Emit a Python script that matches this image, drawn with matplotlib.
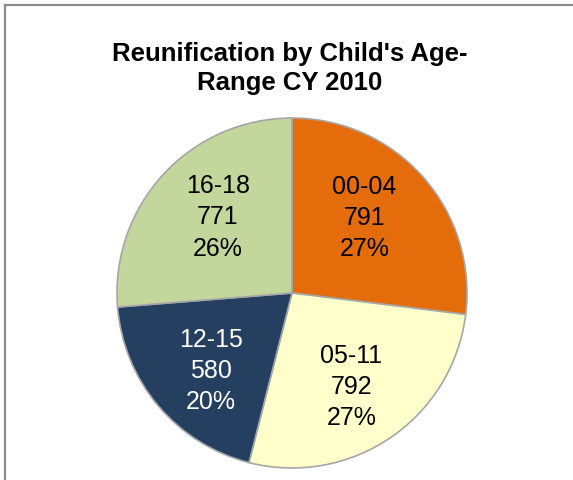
import numpy as np
import matplotlib.pyplot as plt
from matplotlib.lines import Line2D

plt.rcParams['font.family'] = ['Liberation Sans', 'DejaVu Sans']

# Data
age_ranges = ['00-04', '05-11', '12-15', '16-18']
counts = [791, 792, 580, 771]
colors = ['#E46C0A', '#FFFFCC', '#243F60', '#C3D69B']
text_colors = ['black', 'black', 'white', 'black']

W, H = 573, 481
fig = plt.figure(figsize=(W / 100, H / 100), dpi=100)

# pie centre / radius in pixels (from top-left)
cx, cy, r = 292, 294, 175
ax = fig.add_axes([(cx - r) / W, (H - cy - r) / H, 2 * r / W, 2 * r / H])
ax.set_aspect('equal')

wedges, _ = ax.pie(counts, colors=colors, startangle=90, counterclock=False,
                   wedgeprops=dict(edgecolor='#A6A6A6', linewidth=1.2))
ax.set_xlim(-1, 1)
ax.set_ylim(-1, 1)

total = sum(counts)
# label placement tweaks (radial distance, angle offset in degrees)
dist = [0.60, 0.63, 0.64, 0.61]
shift = [5, -1.7, 3.3, -3.2]
for w, lab, n, tc, d, s in zip(wedges, age_ranges, counts, text_colors, dist, shift):
    mid = np.deg2rad((w.theta1 + w.theta2) / 2 + s)
    pct = round(100 * n / total)
    ax.text(d * np.cos(mid), d * np.sin(mid), f'{lab}\n{n}\n{pct}%',
            ha='center', va='center', fontsize=18, color=tc, linespacing=1.38)

fig.text(290 / W, 1 - 68.5 / H, "Reunification by Child's Age-\nRange CY 2010",
         ha='center', va='center', fontsize=18.5, fontweight='bold', linespacing=1.3)

# chart-area border (only top and left visible in the crop)
fig.add_artist(Line2D([5 / W, 1], [1 - 6 / H, 1 - 6 / H], color='#8C8C8C', lw=1.6))
fig.add_artist(Line2D([5 / W, 5 / W], [0, 1 - 6 / H], color='#8C8C8C', lw=1.6))

fig.savefig('out.png', dpi=100)
